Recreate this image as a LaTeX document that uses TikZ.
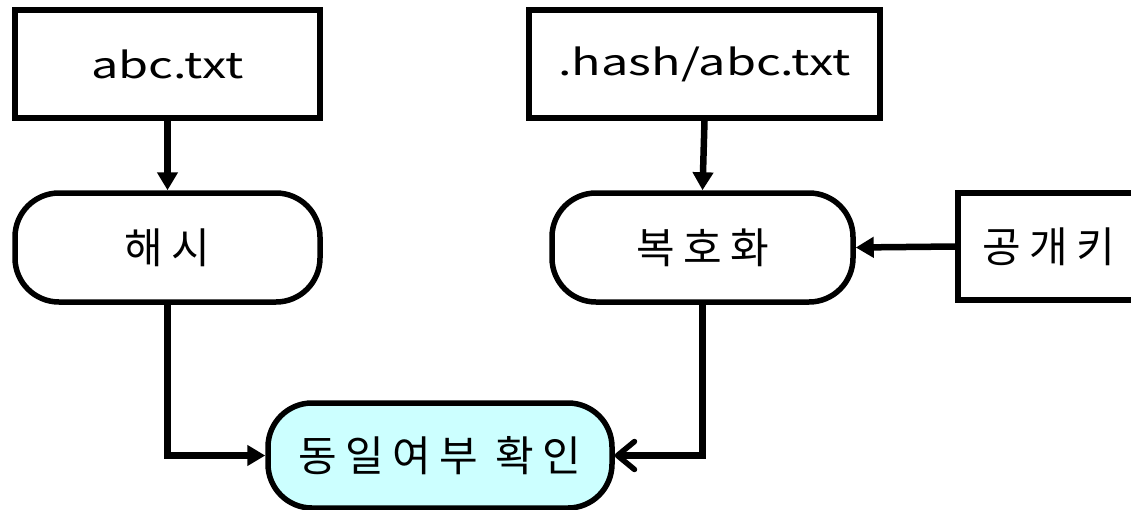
\documentclass[tikz,border=0pt]{standalone}
\usepackage{fontspec}
\setmainfont[LetterSpace=20]{Noto Sans CJK KR}
\newfontfamily\latfont[FakeStretch=1.35]{Noto Sans CJK KR}
\usetikzlibrary{arrows.meta,calc}
\definecolor{cyanfill}{RGB}{204,255,255}
\tikzset{
  box/.style={draw=black, line width=5.5pt, fill=white, inner sep=0pt, font=\fontsize{42}{46}\selectfont},
  sqbox/.style={box},
  rbox/.style={box, rounded corners=44pt},
  lat/.style={font=\fontsize{36}{40}\latfont},
  conn/.style={line width=6.5pt, -{Triangle[length=18pt,width=20pt]}},
  openconn/.style={line width=6.5pt, -{Straight Barb[length=17pt,width=28pt,line width=5.5pt,round]}},
}
\begin{document}
\begin{tikzpicture}[x=1pt,y=-1pt]
\useasboundingbox (0,0) rectangle (1131,509);
\node[sqbox, lat, minimum width=305pt, minimum height=108pt] (abc) at (167.5,64) {abc.txt};
\node[sqbox, lat, minimum width=351pt, minimum height=108pt] (hashf) at (704.5,64) {.hash/abc.txt};
\node[rbox, minimum width=305pt, minimum height=109pt] (hs) at (167.5,247.5) {해시};
\node[rbox, minimum width=301pt, minimum height=109pt] (dec) at (702.5,247.5) {복호화};
\node[sqbox, minimum width=182pt, minimum height=107pt] (key) at (1049,246.5) {공개키};
\node[rbox, fill=cyanfill, minimum width=344pt, minimum height=105pt] (cmp) at (440,455.5) {동일여부 확인};
\draw[conn] (abc.south) -- (hs.north);
\draw[conn] (hashf.south) -- (dec.north);
\draw[conn] (key.west) -- (dec.east);
\draw[conn] (hs.south) |- (cmp.west);
\draw[openconn] (dec.south) |- (cmp.east);
\end{tikzpicture}
\end{document}
